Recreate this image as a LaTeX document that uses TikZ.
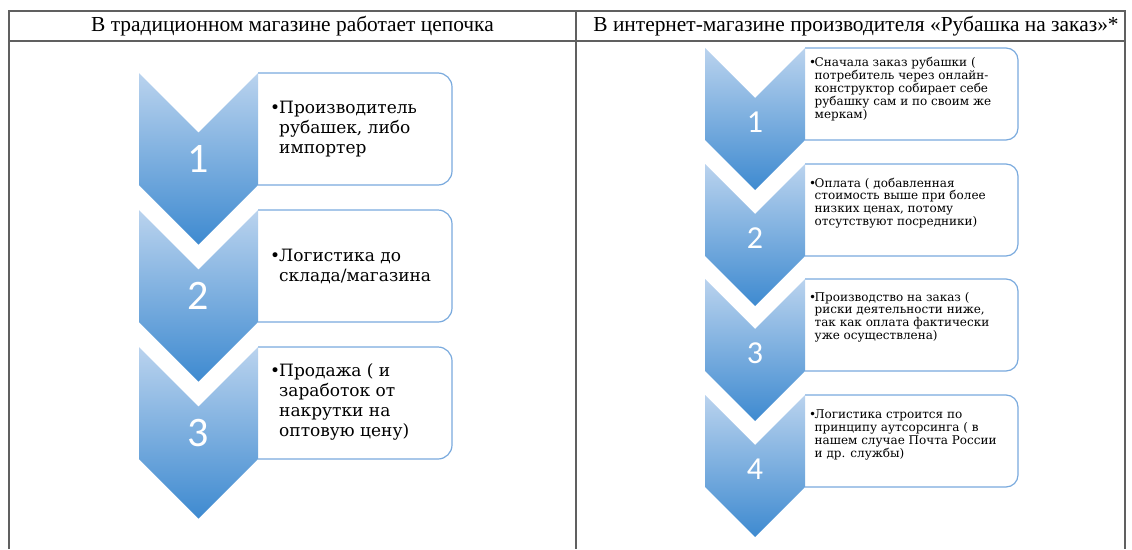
\documentclass[tikz,border=0pt]{standalone}
\usepackage{fontspec}
\setmainfont{Liberation Serif}
\newfontfamily\numfont{Carlito}
\newfontfamily\cardfont{DejaVu Serif}
\usepackage{tikz}
\usetikzlibrary{positioning,calc}

\definecolor{chevtop}{RGB}{186,211,238}
\definecolor{chevbot}{RGB}{62,138,208}
\definecolor{cardline}{RGB}{122,170,222}
\definecolor{gridline}{RGB}{96,96,96}

\tikzset{
  chevron/.style={top color=chevtop,bottom color=chevbot,draw=none},
  stepcard/.style={draw=cardline,line width=1.2pt,fill=white,rounded corners=14pt},
  bignum/.style={text=white,inner sep=0pt,font=\numfont\fontsize{42}{42}\selectfont},
  smallnum/.style={text=white,inner sep=0pt,font=\numfont\fontsize{32}{32}\selectfont},
  bigtext/.style={anchor=west,align=left,inner sep=0pt,font=\cardfont\fontsize{17}{20}\selectfont},
  smalltext/.style={anchor=west,align=left,inner sep=0pt,font=\cardfont\fontsize{12}{12.8}\selectfont},
  headtext/.style={inner sep=0pt,font=\fontsize{21.4}{22}\selectfont},
  gridrule/.style={draw=gridline,line width=1.4pt}
}

\newcommand{\bigbul}{\makebox[9pt][l]{•}}
\newcommand{\bigind}{\hspace*{9pt}}
\newcommand{\smallbul}{\makebox[5.5pt][l]{•}}
\newcommand{\smallind}{\hspace*{5.5pt}}

\begin{document}
\begin{tikzpicture}[x=1pt,y=-1pt]
\useasboundingbox (0,0) rectangle (1132,549);

% Table frame
\draw[gridrule] (9,549) -- (9,11) -- (1125,11) -- (1125,549);
\draw[gridrule] (9,41) -- (1125,41);
\draw[gridrule] (576,11) -- (576,549);

\node[headtext] (headL) at (292.5,26) {В традиционном магазине работает цепочка};
\node[headtext] (headR) at (856,26) {В интернет-магазине производителя «Рубашка на заказ»*};

% Left column: cards first, chevrons on top
\filldraw[stepcard] (258,73) -- (452,73) -- (452,185) -- (258,185);
\filldraw[stepcard] (258,210) -- (452,210) -- (452,322) -- (258,322);
\filldraw[stepcard] (258,347) -- (452,347) -- (452,459) -- (258,459);

\shade[chevron] (139,73) -- (198.5,132.5) -- (258,73) -- (258,185) -- (198.5,244.5) -- (139,185) -- cycle;
\shade[chevron] (139,210) -- (198.5,269.5) -- (258,210) -- (258,322) -- (198.5,381.5) -- (139,322) -- cycle;
\shade[chevron] (139,347) -- (198.5,406.5) -- (258,347) -- (258,459) -- (198.5,518.5) -- (139,459) -- cycle;

\node[bignum] (numL1) at (198.5,159) {1};
\node[bignum] (numL2) at (198.5,296) {2};
\node[bignum] (numL3) at (198.5,433) {3};

\node[bigtext] (textL1) at (270,129) {\bigbul Производитель\\\bigind рубашек, либо\\\bigind импортер};
\node[bigtext] (textL2) at (270,266) {\bigbul Логистика до\\\bigind склада/магазина};
\node[bigtext] (textL3) at (270,402) {\bigbul Продажа ( и\\\bigind заработок от\\\bigind накрутки на\\\bigind оптовую цену)};

% Right column
\filldraw[stepcard,rounded corners=12pt] (805,48) -- (1018,48) -- (1018,140) -- (805,140);
\filldraw[stepcard,rounded corners=12pt] (805,164) -- (1018,164) -- (1018,256) -- (805,256);
\filldraw[stepcard,rounded corners=12pt] (805,279) -- (1018,279) -- (1018,371) -- (805,371);
\filldraw[stepcard,rounded corners=12pt] (805,395) -- (1018,395) -- (1018,487) -- (805,487);

\shade[chevron] (705,48) -- (755,98) -- (805,48) -- (805,140) -- (755,190) -- (705,140) -- cycle;
\shade[chevron] (705,164) -- (755,214) -- (805,164) -- (805,256) -- (755,306) -- (705,256) -- cycle;
\shade[chevron] (705,279) -- (755,329) -- (805,279) -- (805,371) -- (755,421) -- (705,371) -- cycle;
\shade[chevron] (705,395) -- (755,445) -- (805,395) -- (805,487) -- (755,537) -- (705,487) -- cycle;

\node[smallnum] (numR1) at (755,122) {1};
\node[smallnum] (numR2) at (755,238) {2};
\node[smallnum] (numR3) at (755,353) {3};
\node[smallnum] (numR4) at (755,469) {4};

\node[smalltext] (textR1) at (809,89) {\smallbul Сначала заказ рубашки (\\\smallind потребитель через онлайн-\\\smallind конструктор собирает себе\\\smallind рубашку сам и по своим же\\\smallind меркам)};
\node[smalltext] (textR2) at (809,203) {\smallbul Оплата ( добавленная\\\smallind стоимость выше при более\\\smallind низких ценах, потому\\\smallind отсутствуют посредники)};
\node[smalltext] (textR3) at (809,317) {\smallbul Производство на заказ (\\\smallind риски деятельности ниже,\\\smallind так как оплата фактически\\\smallind уже осуществлена)};
\node[smalltext] (textR4) at (809,435) {\smallbul Логистика строится по\\\smallind принципу аутсорсинга ( в\\\smallind нашем случае Почта России\\\smallind и др. службы)};

\end{tikzpicture}
\end{document}
